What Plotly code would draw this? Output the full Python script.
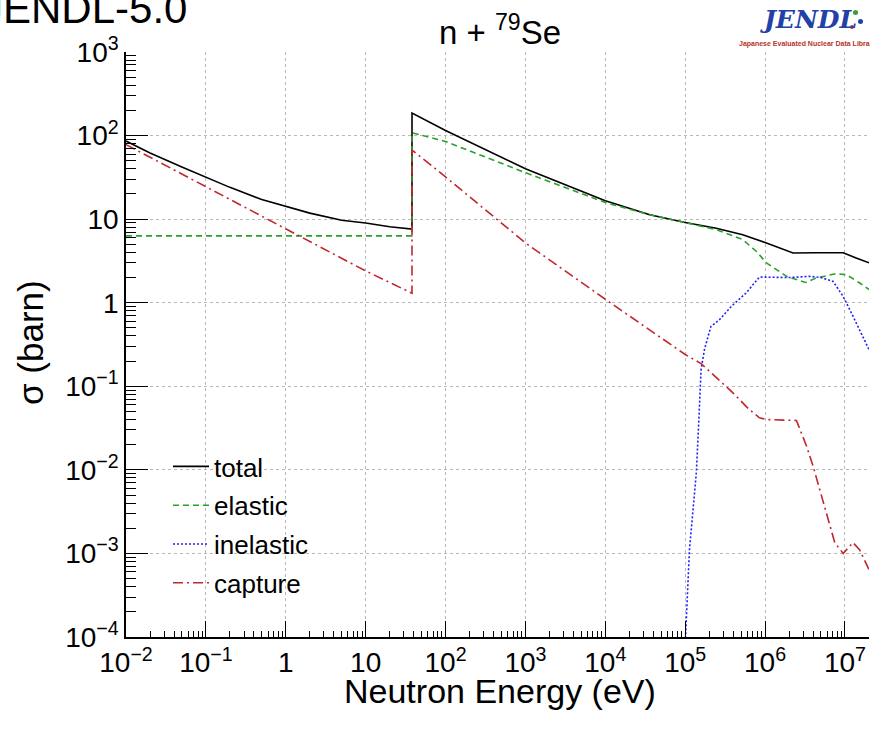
import plotly.graph_objects as go

# ---------------- data ----------------
E_total = [0.01, 0.02, 0.05, 0.1, 0.2, 0.5, 1, 2, 5, 10, 20, 38, 38.05, 100, 1000, 1e4, 3.6e4,
           1e5, 2.45e5, 5.25e5, 1.04e6, 1.52e6, 2.24e6, 4.4e6, 9.5e6, 1.38e7, 2e7]
xs_total = [86, 62, 42, 31.5, 24, 17.2, 14.2, 11.8, 9.7, 9.0, 8.1, 7.6, 186, 115, 40, 16.6,
            11.3, 9.1, 7.8, 6.5, 5.2, 4.5, 3.93, 3.96, 3.96, 3.43, 3.0]

E_elastic = [0.01, 38, 38.05, 100, 1000, 1e4, 3.6e4, 1e5, 2.45e5, 5.25e5, 7.8e5, 1.04e6,
             1.86e6, 3.2e6, 4.4e6, 7.8e6, 1.05e7, 1.53e7, 2e7]
xs_elastic = [6.3, 6.3, 108, 85, 36, 15.8, 11.3, 9.0, 7.5, 5.7, 4.1, 3.0,
              2.07, 1.75, 1.98, 2.23, 2.16, 1.72, 1.44]

E_inelastic = [1.0e5, 1.01e5, 1.13e5, 1.25e5, 1.38e5, 1.49e5, 1.58e5, 1.66e5, 1.75e5, 2.1e5,
               2.7e5, 3.8e5, 5.8e5, 8.5e5, 1.04e6, 2e6, 3.6e6, 5e6, 7.1e6, 9.5e6, 1.26e7,
               1.68e7, 2e7]
xs_inelastic = [5e-5, 1e-4, 1.1e-3, 3.4e-3, 9.3e-3, 0.044, 0.158, 0.21, 0.28, 0.52,
                0.63, 0.91, 1.31, 2.03, 2.03, 2.0, 2.07, 2.0, 1.8, 1.19, 0.69,
                0.40, 0.275]

E_capture = [0.01, 0.1, 1, 10, 38, 38.05, 100, 1000, 1e4, 1e5, 1.58e5, 3.96e5, 6.3e5,
             8.5e5, 1.04e6, 2.47e6, 3.3e6, 4e6, 7.45e6, 9.5e6, 1.26e7, 1.53e7, 2e7]
xs_capture = [78, 24.5, 7.6, 2.4, 1.3, 67, 32, 5.2, 1.1, 0.24, 0.187, 0.0835, 0.053,
              0.042, 0.040, 0.039, 0.0193, 0.011, 1.35e-3, 1.0e-3, 1.35e-3, 1.1e-3, 6.4e-4]

x_tickvals = [1e-2, 1e-1, 1, 10, 1e2, 1e3, 1e4, 1e5, 1e6, 1e7]
x_ticktext = ["10<sup>\u22122</sup>", "10<sup>\u22121</sup>", "1", "10", "10<sup>2</sup>",
              "10<sup>3</sup>", "10<sup>4</sup>", "10<sup>5</sup>", "10<sup>6</sup>",
              "10<sup>7</sup>"]
y_tickvals = [1e-4, 1e-3, 1e-2, 1e-1, 1, 10, 1e2, 1e3]
y_ticktext = ["10<sup>\u22124</sup>", "10<sup>\u22123</sup>", "10<sup>\u22122</sup>",
              "10<sup>\u22121</sup>", "1", "10", "10<sup>2</sup>", "10<sup>3</sup>"]

# ---------------- layout geometry ----------------
W, H = 870, 731
ML, MR, MT, MB = 126, 1, 52, 94
PW, PH = W - ML - MR, H - MT - MB


def px(x):
    return (x - ML) / PW


def py(y):
    return (H - MB - y) / PH


FONT = "Liberation Sans, Arial, Helvetica, sans-serif"

fig = go.Figure()
fig.add_trace(go.Scatter(x=E_total, y=xs_total, mode="lines", name="total",
                         line=dict(color="black", width=1.6), legendgroup="a"))
fig.add_trace(go.Scatter(x=E_elastic, y=xs_elastic, mode="lines", name="elastic",
                         line=dict(color="#2ca02c", width=1.6, dash="6px,4px"), legendgroup="b"))
fig.add_trace(go.Scatter(x=E_inelastic, y=xs_inelastic, mode="lines", name="inelastic",
                         line=dict(color="#1f1fff", width=1.6, dash="2px,2px"), legendgroup="c"))
fig.add_trace(go.Scatter(x=E_capture, y=xs_capture, mode="lines", name="capture",
                         line=dict(color="#c0282d", width=1.6, dash="10px,4px,2px,4px"),
                         legendgroup="d"))

axis_common = dict(
    type="log", showline=True, linecolor="black", linewidth=1.5, mirror=False,
    ticks="inside", tickcolor="black", tickwidth=1.2, tickmode="array",
    showgrid=True, gridcolor="#b8b8b8", griddash="dot", gridwidth=1,
    zeroline=False, tickfont=dict(family=FONT, size=28, color="black"),
)

fig.update_xaxes(**axis_common, range=[-2, 7.301], tickvals=x_tickvals, ticktext=x_ticktext,
                 ticklen=16,
                 minor=dict(ticks="inside", ticklen=6, dtick="D1", tickcolor="black",
                            tickwidth=1.2, showgrid=False))
fig.update_yaxes(**axis_common, range=[-4, 3], tickvals=y_tickvals, ticktext=y_ticktext,
                 ticklen=22,
                 minor=dict(ticks="inside", ticklen=10, dtick="D1", tickcolor="black",
                            tickwidth=1.2, showgrid=False))

annotations = [
    dict(text="JENDL-5.0", x=px(189), y=py(8), xanchor="right", yanchor="middle",
         font=dict(family=FONT, size=42, color="black")),
    dict(text="n + <sup>79</sup>Se", x=px(500), y=py(30), xanchor="center", yanchor="middle",
         font=dict(family=FONT, size=33, color="black")),
    dict(text="Neutron Energy (eV)", x=px(500), y=py(691), xanchor="center", yanchor="middle",
         font=dict(family=FONT, size=34, color="black")),
    dict(text="\u03c3 (barn)", x=px(30), y=py(343), xanchor="center", yanchor="middle",
         textangle=-90, font=dict(family=FONT, size=35, color="black")),
    dict(text="<b><i>JENDL</i></b>", x=px(808), y=py(20), xanchor="center", yanchor="middle",
         font=dict(family="DejaVu Serif, serif", size=25, color="#2340a8")),
    dict(text="<b>Japanese Evaluated Nuclear Data Library</b>", x=px(737), y=py(44),
         xanchor="left", yanchor="middle",
         font=dict(family=FONT, size=7, color="#b8322a")),
]
for a in annotations:
    a.update(xref="paper", yref="paper", showarrow=False)

shapes = [
    dict(type="circle", xref="paper", yref="paper", x0=px(844), x1=px(849), y0=py(16), y1=py(11),
         fillcolor="#f2c200", line=dict(width=0)),
    dict(type="circle", xref="paper", yref="paper", x0=px(853), x1=px(858), y0=py(15), y1=py(10),
         fillcolor="#3a9d3a", line=dict(width=0)),
    dict(type="circle", xref="paper", yref="paper", x0=px(858), x1=px(863), y0=py(24), y1=py(19),
         fillcolor="#2340a8", line=dict(width=0)),
    dict(type="circle", xref="paper", yref="paper", x0=px(850), x1=px(854), y0=py(29), y1=py(25),
         fillcolor="#d03030", line=dict(width=0)),
]

fig.update_layout(
    width=W, height=H, margin=dict(l=ML, r=MR, t=MT, b=MB, pad=0),
    paper_bgcolor="white", plot_bgcolor="white",
    showlegend=True,
    legend=dict(x=px(168), y=py(443), xanchor="left", yanchor="top",
                font=dict(family=FONT, size=26, color="black"),
                bgcolor="rgba(0,0,0,0)", borderwidth=0, tracegroupgap=2,
                itemwidth=36),
    annotations=annotations, shapes=shapes,
)

fig.write_html("out.html")
